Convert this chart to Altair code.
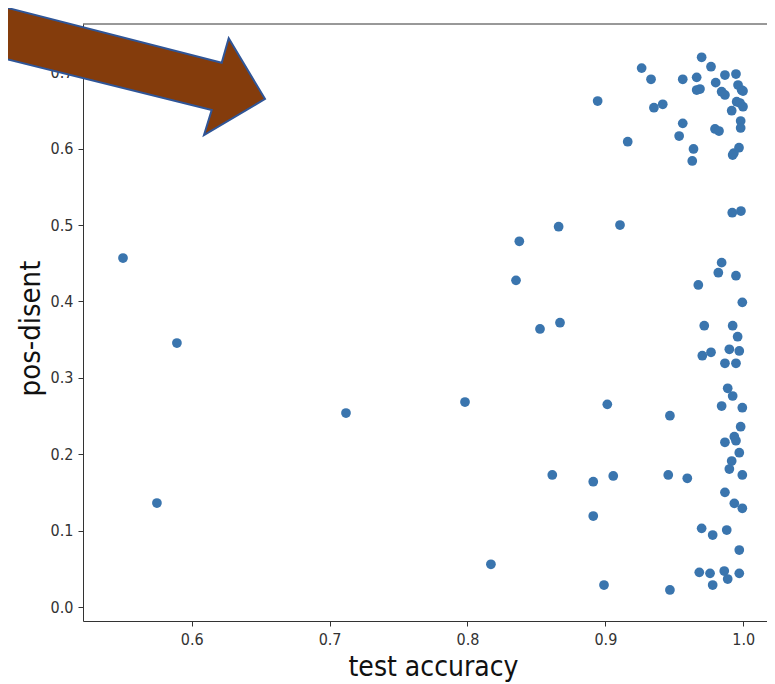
import altair as alt
import pandas as pd

# test accuracy (x) and pos-disent (y)
acc = [0.9698, 0.9766, 0.9263, 0.9331, 0.9561, 0.9662, 0.9867, 0.9947, 0.9800, 0.9662,
       0.9686, 0.9843, 0.9867, 0.9962, 0.9988, 0.9998, 0.8944, 0.9352, 0.9416, 0.9952,
       0.9976, 0.9998, 0.9916, 0.9561, 0.9981, 0.9981, 0.9795, 0.9824, 0.9535, 0.9162,
       0.9639, 0.9969, 0.9932, 0.9923, 0.9630, 0.9983, 0.9920, 0.9106, 0.9843, 0.9819,
       0.9947, 0.9674, 0.9993, 0.9717, 0.9923, 0.9959, 0.9703, 0.9766, 0.9899, 0.9971,
       0.9867, 0.9947, 0.9014, 0.9468, 0.9887, 0.9923, 0.9843, 0.9993, 0.9981, 0.9935,
       0.9947, 0.9867, 0.9971, 0.9916, 0.9899, 0.9993, 0.8912, 0.9057, 0.9456, 0.9594,
       0.9867, 0.9935, 0.9993, 0.8912, 0.9698, 0.9778, 0.9880, 0.9971, 0.9681, 0.9759,
       0.9862, 0.9887, 0.9971, 0.9778, 0.8990, 0.9468, 0.8661, 0.8376, 0.8352, 0.8671,
       0.8526, 0.8615, 0.8170, 0.5502, 0.5893, 0.5748, 0.7119, 0.7982]
disent = [0.7195, 0.7072, 0.7054, 0.6907, 0.6907, 0.6933, 0.6963, 0.6976, 0.6863, 0.6767,
          0.6780, 0.6745, 0.6702, 0.6832, 0.6767, 0.6754, 0.6623, 0.6535, 0.6580, 0.6614,
          0.6597, 0.6548, 0.6496, 0.6331, 0.6361, 0.6270, 0.6257, 0.6230, 0.6165, 0.6090,
          0.5995, 0.6012, 0.5942, 0.5916, 0.5838, 0.5183, 0.5161, 0.5000, 0.4507, 0.4376,
          0.4336, 0.4215, 0.3988, 0.3682, 0.3682, 0.3538, 0.3289, 0.3334, 0.3373, 0.3351,
          0.3190, 0.3190, 0.2653, 0.2504, 0.2863, 0.2762, 0.2631, 0.2609, 0.2360, 0.2229,
          0.2177, 0.2156, 0.2020, 0.1911, 0.1806, 0.1728, 0.1640, 0.1715, 0.1728, 0.1685,
          0.1501, 0.1357, 0.1292, 0.1191, 0.1030, 0.0942, 0.1008, 0.0746, 0.0454, 0.0441,
          0.0471, 0.0366, 0.0441, 0.0288, 0.0288, 0.0223, 0.4978, 0.4787, 0.4276, 0.3721,
          0.3639, 0.1728, 0.0559, 0.4568, 0.3455, 0.1361, 0.2539, 0.2683]

x_ticks = [0.6, 0.7, 0.8, 0.9, 1.0]
y_ticks = [0.0, 0.1, 0.2, 0.3, 0.4, 0.5, 0.6, 0.7]

df = pd.DataFrame({"test accuracy": acc, "pos-disent": disent})
one = pd.DataFrame({"k": [0]})

W, H = 684, 597
FONT = "'DejaVu Sans Condensed', 'DejaVu Sans'"

points = alt.Chart(df).mark_circle(size=95, color="#3a75ae", opacity=1).encode(
    x=alt.X("test accuracy:Q",
            scale=alt.Scale(domain=[0.5212, 1.0172], nice=False, zero=False),
            axis=alt.Axis(values=x_ticks, format=".1f", grid=False,
                          domainColor="#333333", tickColor="#333333", tickSize=5,
                          labelFont=FONT, labelFontSize=16, labelColor="#333333",
                          labelPadding=5, titleFont=FONT, titleFontSize=28,
                          titleFontWeight="normal", titleColor="#111111",
                          titleX=350, titleY=46, titleBaseline="middle", titleAnchor="middle")),
    y=alt.Y("pos-disent:Q",
            scale=alt.Scale(domain=[-0.0183, 0.7631], nice=False, zero=False),
            axis=alt.Axis(values=y_ticks, format=".1f", grid=False,
                          domainColor="#333333", tickColor="#333333", tickSize=5,
                          labelFont=FONT, labelFontSize=16, labelColor="#333333",
                          labelPadding=5, titleFont=FONT, titleFontSize=29,
                          titleFontWeight="normal", titleColor="#111111",
                          titleX=-53, titleY=304, titleBaseline="middle", titleAnchor="middle")),
)

top_spine = alt.Chart(one).mark_rule(color="#333333", strokeWidth=1).encode(
    x=alt.value(0), x2=alt.value(W), y=alt.value(0)
)

arrow_path = "M -83 -18 L 138.7 38.7 L 145.7 14.3 L 182 75 L 121 111 L 128.7 86 L -83 33.6 Z"
arrow = alt.Chart(one).mark_point(
    shape=arrow_path, size=4, filled=True, fill="#843c0c", stroke="#2f5597",
    strokeWidth=2, opacity=1, fillOpacity=1, strokeOpacity=1
).encode(x=alt.value(0), y=alt.value(0))

chart = alt.layer(points, top_spine, arrow).properties(
    width=W, height=H,
    autosize=alt.AutoSizeParams(type="none"),
    padding={"left": 75, "top": 16, "right": 0, "bottom": 63},
).configure_view(stroke=None)

chart.save("out.html", embed_options={"renderer": "svg", "actions": False})
